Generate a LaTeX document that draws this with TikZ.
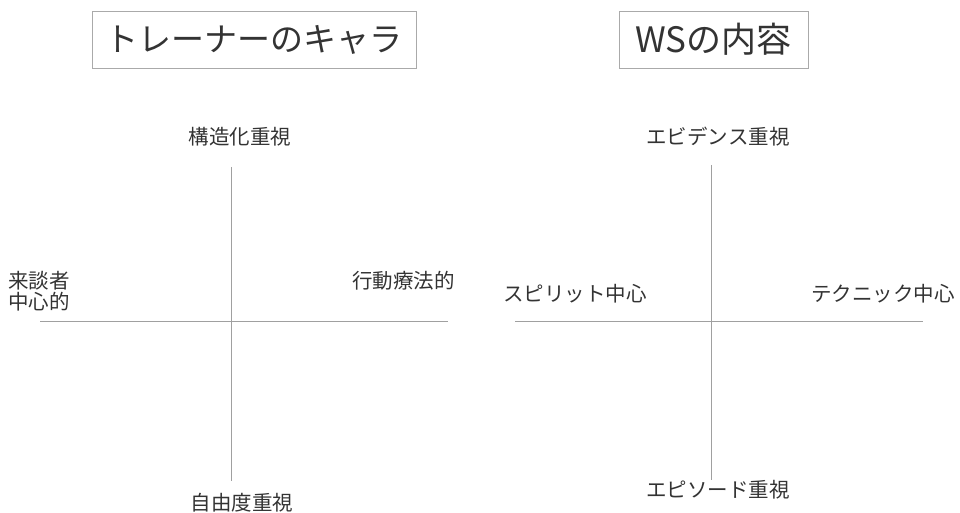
\documentclass[tikz,border=0pt]{standalone}
\usepackage{fontspec}
\setmainfont{Noto Sans CJK JP}
\definecolor{txt}{HTML}{333333}
\definecolor{frame}{HTML}{AAAAAA}
\definecolor{axis}{HTML}{A0A0A0}
\begin{document}
\begin{tikzpicture}[x=1pt,y=-1pt,
  titlebox/.style={draw=frame,line width=0.8pt,text=txt,inner sep=0pt,font=\fontsize{33}{36}\selectfont},
  lbl/.style={text=txt,inner sep=0pt,font=\fontsize{20.5}{23}\selectfont},
  axisline/.style={draw=axis,line width=0.8pt}]
\useasboundingbox (0,0) rectangle (960,513);
% titles
\node[titlebox,minimum width=324pt,minimum height=57pt] (t1) at (254,39.5) {トレーナーのキャラ};
\node[titlebox,minimum width=189pt,minimum height=57pt,font=\fontsize{35}{38}\selectfont] (t2) at (713.5,39.5) {WSの内容};
% left chart
\coordinate (lt) at (231,167);
\coordinate (lb) at (231,481);
\coordinate (ll) at (40,321);
\coordinate (lr) at (448,321);
\draw[axisline] (lt) -- (lb);
\draw[axisline] (ll) -- (lr);
\node[lbl] (ltop) at (240,137) {構造化重視};
\node[lbl] (lbot) at (242,503) {自由度重視};
\node[lbl,anchor=west,align=left,font=\fontsize{20.5}{21}\selectfont] (lleft) at (8,291) {来談者\\中心的};
\node[lbl,anchor=east] (lright) at (455,281) {行動療法的};
% right chart
\coordinate (rt) at (711,165);
\coordinate (rb) at (711,480);
\coordinate (rl) at (515,321);
\coordinate (rr) at (923,321);
\draw[axisline] (rt) -- (rb);
\draw[axisline] (rl) -- (rr);
\node[lbl] (rtop) at (718,137) {エビデンス重視};
\node[lbl] (rbot) at (718,490) {エピソード重視};
\node[lbl,anchor=west] (rleft) at (503,294) {スピリット中心};
\node[lbl,anchor=east] (rright) at (955,294) {テクニック中心};
\end{tikzpicture}
\end{document}
